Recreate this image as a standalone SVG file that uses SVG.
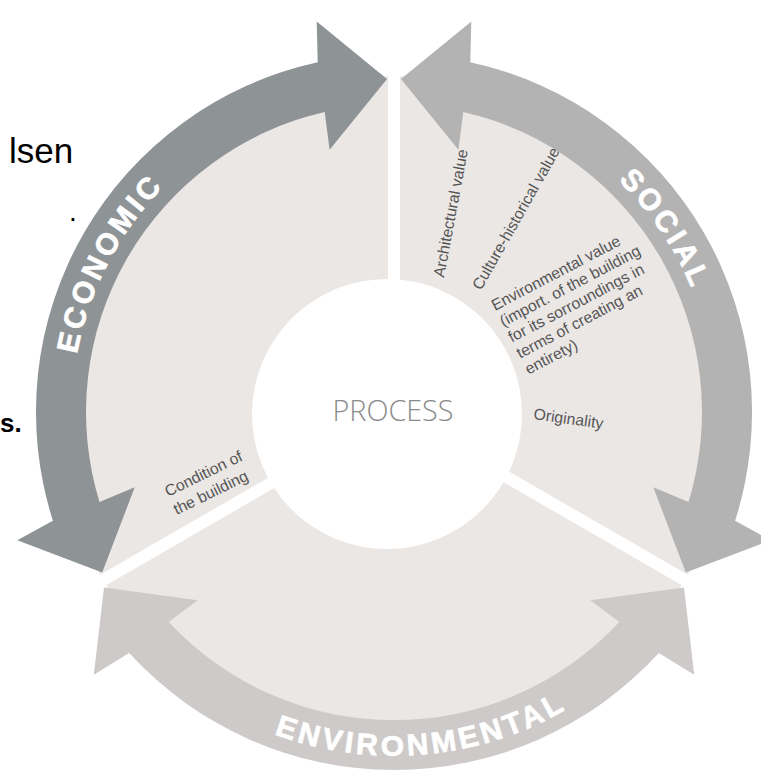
<svg xmlns="http://www.w3.org/2000/svg" width="761" height="774" viewBox="0 0 761 774">
  <style>
    .sector { fill: #ebe7e5; }
    .gap { stroke: #ffffff; stroke-width: 12; fill: none; }
    .band-eco { fill: #8e9396; }
    .band-soc { fill: #b3b3b3; }
    .band-env { fill: #cdcac9; }
    .band-label { font-family: "Liberation Sans", Arial, sans-serif; font-weight: bold; font-size: 30px; letter-spacing: 3.5px; fill: #ffffff; stroke: #ffffff; stroke-width: 0.7; }
    .label { font-family: "Liberation Sans", Arial, sans-serif; font-size: 15.8px; fill: #555555; }
    .slide { font-family: "Liberation Sans", Arial, sans-serif; fill: #000000; }
  </style>
  <defs>
    <path id="arc-eco" d="M76.7,467.9 A322.3,322.3 0 0 1 257.8,119.9"/>
    <path id="arc-soc" d="M504.2,109.1 A322.3,322.3 0 0 1 716.1,423.2"/>
    <path id="arc-env" d="M196.9,693.5 A343.7,343.7 0 0 0 637.0,655.0"/>
  </defs>
  <rect x="0" y="0" width="761" height="774" fill="#ffffff"/>

  <!-- slide text fragments at the left edge -->
  <g id="slide-fragments">
    <text class="slide" x="9" y="163" font-size="35">lsen</text>
    <text class="slide" x="69" y="221" font-size="28">.</text>
    <text class="slide" x="0" y="432" font-size="26" font-weight="bold">s.</text>
  </g>

  <!-- sectors (nodes) -->
  <g id="economic">
    <path class="sector" d="M394,412 L103,580 A336,336 0 0 1 394,76 Z"/>
    <text class="label" transform="translate(168,497) rotate(-26)"><tspan x="0" y="0">Condition of</tspan><tspan x="0" dy="20">the building</tspan></text>
  </g>
  <g id="social">
    <path class="sector" d="M394,412 L394,76 A336,336 0 0 1 685,580 Z"/>
    <text class="label" transform="translate(444,278) rotate(-79.4)">Architectural value</text>
    <text class="label" transform="translate(481,291) rotate(-60.5)">Culture-historical value</text>
    <text class="label" transform="translate(495,311) rotate(-27.7)"><tspan x="0" y="0">Environmental value</tspan><tspan x="0" dy="18">(import. of the building</tspan><tspan x="0" dy="18">for its sorroundings in</tspan><tspan x="0" dy="18">terms of creating an</tspan><tspan x="0" dy="18">entirety)</tspan></text>
    <text class="label" transform="translate(533,419) rotate(8)">Originality</text>
  </g>
  <g id="environmental">
    <path class="sector" d="M394,412 L685,580 A336,336 0 0 1 103,580 Z"/>
  </g>

  <g id="gaps">
    <line class="gap" x1="394" y1="412" x2="394" y2="60"/>
    <line class="gap" x1="394" y1="412" x2="89.2" y2="588"/>
    <line class="gap" x1="394" y1="412" x2="698.8" y2="588"/>
  </g>

  <!-- arrows around the cycle -->
  <g id="connectors">
    <path class="band-eco" d="M102.2,572.4 L17.3,540.3 L52.9,520.8 A358,358 0 0 1 317.7,62.2 L316.7,21.6 L387.0,79.1 L329.6,149.8 L324.7,111.9 A308,308 0 0 0 99.5,502.1 L134.7,487.3 Z"/>
    <path class="band-soc" d="M401.0,79.1 L471.3,21.6 L470.3,62.2 A358,358 0 0 1 735.1,520.8 L770.7,540.3 L685.8,572.4 L653.3,487.3 L688.5,502.1 A308,308 0 0 0 463.3,111.9 L458.4,149.8 Z"/>
    <path class="band-env" d="M684.0,587.6 L694.2,674.8 L658.8,652.9 A358,358 0 0 1 129.2,652.9 L93.8,674.8 L104.0,587.6 L197.7,600.3 L168.7,622.1 A308,308 0 0 0 619.3,622.1 L590.3,600.3 Z"/>
    <text class="band-label" text-anchor="middle"><textPath href="#arc-eco" startOffset="50%">ECONOMIC</textPath></text>
    <text class="band-label" text-anchor="middle"><textPath href="#arc-soc" startOffset="50%">SOCIAL</textPath></text>
    <text class="band-label" text-anchor="middle"><textPath href="#arc-env" startOffset="50%">ENVIRONMENTAL</textPath></text>
  </g>

  <g id="process">
    <circle cx="387" cy="414" r="135" fill="#ffffff"/>
    <text x="393" y="421" text-anchor="middle" font-family="'Open Sans', 'Liberation Sans', sans-serif" font-weight="300" font-size="30" fill="#8b8b8b" textLength="121" lengthAdjust="spacingAndGlyphs">PROCESS</text>
  </g>
</svg>
